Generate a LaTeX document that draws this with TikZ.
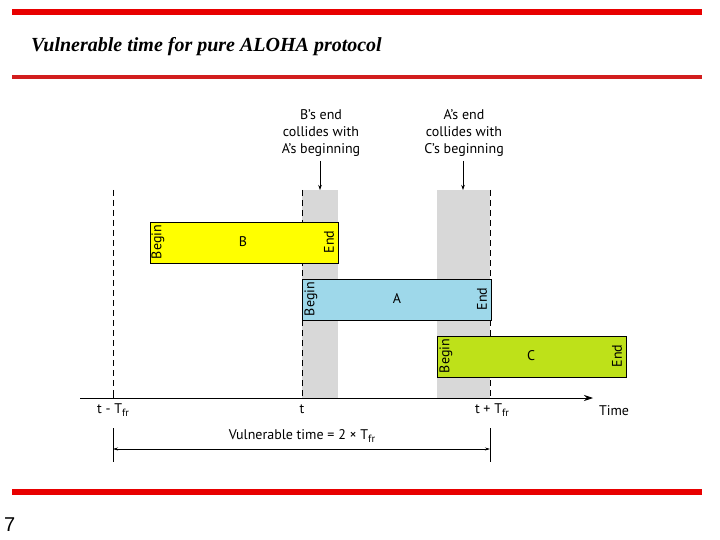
\documentclass[tikz,border=0pt]{standalone}
\usepackage{fontspec}
\setmainfont{Liberation Serif}
\newfontfamily\diag{PT Sans}
\newfontfamily\pgfont{Liberation Sans}
\usetikzlibrary{arrows.meta}
\definecolor{slred}{RGB}{232,0,0}
\definecolor{slred2}{RGB}{210,30,30}
\definecolor{boxB}{RGB}{255,255,0}
\definecolor{boxA}{RGB}{158,216,234}
\definecolor{boxC}{RGB}{190,225,25}
\definecolor{band}{RGB}{216,216,216}
\newcommand{\frsub}{\raisebox{-0.35ex}{\fontsize{10.5}{12}\selectfont fr}}
\tikzset{
  frame/.style={draw=black, line width=0.8pt},
  lbl/.style={font=\diag\fontsize{14}{17}\selectfont, inner sep=1pt},
  rot/.style={lbl, rotate=90},
  dashline/.style={dashed, dash pattern=on 6pt off 4pt, line width=0.6pt},
  note/.style={lbl, align=center},
}
\begin{document}
\begin{tikzpicture}[x=1pt,y=-1pt]
\useasboundingbox (0,0) rectangle (720,540);
% red rules
\fill[slred] (12,9) rectangle (702,15);
\fill[slred2] (12,75.5) rectangle (702,79);
\fill[slred] (12,489) rectangle (702,495);
\node[anchor=west, font=\bfseries\itshape\fontsize{20}{24}\selectfont, inner sep=0] (title) at (31,47) {Vulnerable time for pure ALOHA protocol};
\node[anchor=west, font=\pgfont\fontsize{20}{24}\selectfont, inner sep=0] (pg) at (4,525) {7};
% gray bands
\fill[band] (302,190) rectangle (338,398);
\fill[band] (437,190) rectangle (490,398);
% dashed lines
\draw[dashline] (113,190) -- (113,398);
\draw[dashline] (302,190) -- (302,398);
\draw[dashline] (490,190) -- (490,398);
% boxes
\node[frame, fill=boxB, minimum width=188pt, minimum height=41pt, inner sep=0, anchor=north west] (B) at (150,222) {};
\node[frame, fill=boxA, minimum width=189pt, minimum height=41pt, inner sep=0, anchor=north west] (A) at (302,279) {};
\node[frame, fill=boxC, minimum width=189pt, minimum height=41pt, inner sep=0, anchor=north west] (C) at (437,336) {};
\node[lbl] (Bl) at (243,242) {B};
\node[lbl] (Al) at (397,299) {A};
\node[lbl] (Cl) at (531,356) {C};
\node[rot] (Bb) at (158,242) {Begin};
\node[rot] (Be) at (329,242) {End};
\node[rot] (Ab) at (311,299) {Begin};
\node[rot] (Ae) at (482,299) {End};
\node[rot] (Cb) at (446,356) {Begin};
\node[rot] (Ce) at (617,356) {End};
% notes
\node[note] (n1) at (321,133) {B’s end\\collides with\\A’s beginning};
\node[note] (n2) at (464,133) {A’s end\\collides with\\C’s beginning};
\coordinate (n1t) at (320,190);
\coordinate (n2t) at (463,190);
\draw[-{Stealth[length=5pt,width=3.5pt]}, line width=0.6pt] (320,161) -- (n1t);
\draw[-{Stealth[length=5pt,width=3.5pt]}, line width=0.6pt] (463,161) -- (n2t);
% time axis
\coordinate (ax0) at (80,398);
\coordinate (ax1) at (593,398);
\draw[-{Stealth[length=9pt,width=6pt]}, line width=0.8pt] (ax0) -- (ax1);
\draw[line width=0.6pt] (113,393) -- (113,398);
\node[lbl] (t0) at (113,410) {t - T\frsub};
\node[lbl] (t1) at (302,409) {t};
\node[lbl] (t2) at (492,410) {t + T\frsub};
\node[lbl] (time) at (614,411) {Time};
% vulnerable span
\coordinate (v0) at (113,428);
\coordinate (v1) at (490,428);
\draw[line width=0.6pt] (v0) -- (113,462);
\draw[line width=0.6pt] (v1) -- (490,462);
\draw[{Stealth[length=5pt,width=3pt]}-{Stealth[length=5pt,width=3pt]}, line width=0.6pt] (113,449) -- (490,449);
\node[lbl] (vt) at (302,436) {Vulnerable time = 2 × T\frsub};
\end{tikzpicture}
\end{document}
